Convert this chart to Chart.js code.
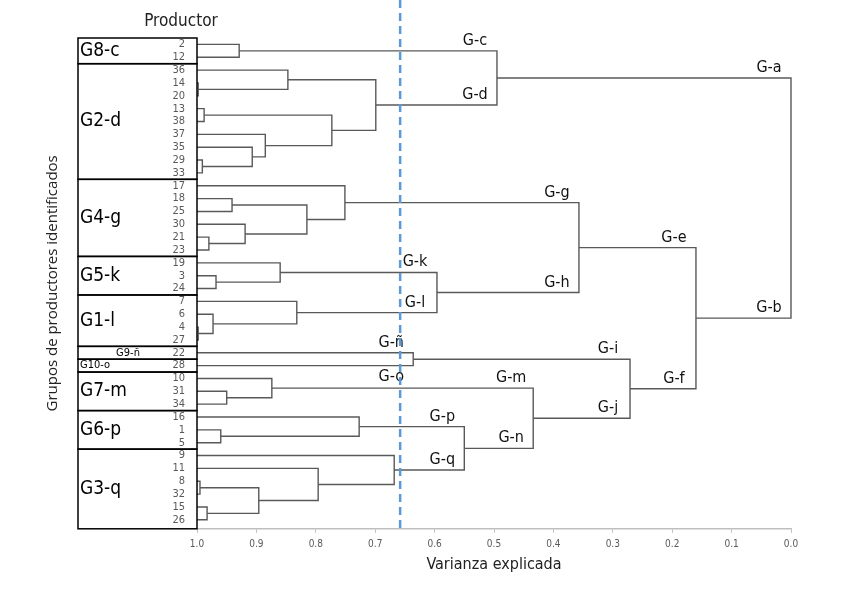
<!DOCTYPE html>
<html lang="es">
<head>
  <meta charset="UTF-8" />
  <title>Dendrograma de productores</title>
  <script src="https://cdn.jsdelivr.net/npm/chart.js"></script>
  <style>
    body { margin: 0; background: #fff; }
    #wrap { width: 864px; height: 596px; position: relative; }
  </style>
</head>
<body>
  <div id="wrap"><canvas id="dendro"></canvas></div>

  <script>
    // productores en el orden del dendrograma (de arriba a abajo)
    const productores = ['2','12','36','14','20','13','38','37','35','29','33','17','18','25','30','21','23',
      '19','3','24','7','6','4','27','22','28','10','31','34','16','1','5','9','11','8','32','15','26'];

    // uniones: [id, rama A (arriba), rama B (abajo), varianza explicada en la union]
    const uniones = [
      ['m1', '2', '12', 0.929],
      ['m2', '14', '20', 0.998],
      ['m3', '36', 'm2', 0.847],
      ['m4', '13', '38', 0.988],
      ['m5', '29', '33', 0.991],
      ['m6', '35', 'm5', 0.907],
      ['m7', '37', 'm6', 0.885],
      ['m8', 'm4', 'm7', 0.773],
      ['m9', 'm3', 'm8', 0.699],
      ['m10', 'm1', 'm9', 0.495],
      ['m11', '18', '25', 0.941],
      ['m12', '21', '23', 0.980],
      ['m13', '30', 'm12', 0.919],
      ['m14', 'm11', 'm13', 0.815],
      ['m15', '17', 'm14', 0.751],
      ['m16', '3', '24', 0.968],
      ['m17', '19', 'm16', 0.860],
      ['m18', '4', '27', 0.998],
      ['m19', '6', 'm18', 0.973],
      ['m20', '7', 'm19', 0.832],
      ['m21', 'm17', 'm20', 0.596],
      ['m22', 'm15', 'm21', 0.357],
      ['m23', '22', '28', 0.636],
      ['m24', '31', '34', 0.950],
      ['m25', '10', 'm24', 0.874],
      ['m26', '1', '5', 0.960],
      ['m27', '16', 'm26', 0.727],
      ['m28', '8', '32', 0.995],
      ['m29', '15', '26', 0.983],
      ['m30', 'm28', 'm29', 0.896],
      ['m31', '11', 'm30', 0.796],
      ['m32', '9', 'm31', 0.668],
      ['m33', 'm27', 'm32', 0.550],
      ['m34', 'm25', 'm33', 0.434],
      ['m35', 'm23', 'm34', 0.271],
      ['m36', 'm22', 'm35', 0.160],
      ['m37', 'm10', 'm36', 0.000]
    ];

    // nombres de las ramas en cada union: [union, rama de arriba, rama de abajo]
    const nombresRamas = [
      ['m10', 'G-c', 'G-d'],
      ['m37', 'G-a', 'G-b'],
      ['m22', 'G-g', 'G-h'],
      ['m36', 'G-e', 'G-f'],
      ['m21', 'G-k', 'G-l'],
      ['m23', 'G-ñ', 'G-o'],
      ['m35', 'G-i', 'G-j'],
      ['m34', 'G-m', 'G-n'],
      ['m33', 'G-p', 'G-q']
    ];
    const nombresDebajo = ['G-o'];

    // grupos identificados: [nombre, primer productor, ultimo productor]
    const grupos = [
      ['G8-c', '2', '12'], ['G2-d', '36', '33'], ['G4-g', '17', '23'], ['G5-k', '19', '24'],
      ['G1-l', '7', '27'], ['G9-ñ', '22', '22'], ['G10-o', '28', '28'], ['G7-m', '10', '34'],
      ['G6-p', '16', '5'], ['G3-q', '9', '26']
    ];
    const gruposChicos = ['G9-ñ', 'G10-o'];

    const ticksVarianza = [1.0, 0.9, 0.8, 0.7, 0.6, 0.5, 0.4, 0.3, 0.2, 0.1, 0.0];
    const corte = 0.658;

    const fuenteAngosta = "'Liberation Sans Narrow', 'DejaVu Sans Condensed', 'Open Sans', sans-serif";

    // posiciones de los nodos (altura = varianza, y = indice del productor)
    const nodos = {};
    productores.forEach((p, i) => { nodos[p] = { h: 1.0, y: i }; });
    uniones.forEach(([id, a, b, h]) => {
      nodos[id] = { h: h, y: (nodos[a].y + nodos[b].y) / 2, a: a, b: b };
    });

    const datasets = uniones.map(([id, a, b, h]) => ({
      data: [
        { x: nodos[a].h, y: nodos[a].y },
        { x: h, y: nodos[a].y },
        { x: h, y: nodos[b].y },
        { x: nodos[b].h, y: nodos[b].y }
      ],
      showLine: true,
      borderColor: '#595959',
      borderWidth: 1.4,
      pointRadius: 0,
      tension: 0,
      clip: false
    }));

    const extras = {
      id: 'extras',
      afterDraw(chart) {
        const { ctx, chartArea, scales: { x, y } } = chart;
        ctx.save();

        // cajas de grupos
        const izq = 78, der = x.getPixelForValue(1.0);
        ctx.strokeStyle = '#000';
        ctx.lineWidth = 1.5;
        grupos.forEach(([nombre, p1, p2], k) => {
          const top = y.getPixelForValue(productores.indexOf(p1) - 0.5);
          const bot = k === grupos.length - 1 ? chartArea.bottom : y.getPixelForValue(productores.indexOf(p2) + 0.5);
          ctx.strokeRect(izq, top, der - izq, bot - top);
          ctx.fillStyle = '#000';
          ctx.textBaseline = 'middle';
          if (gruposChicos.includes(nombre)) {
            ctx.font = '11px ' + fuenteAngosta;
            ctx.textAlign = nombre === 'G9-ñ' ? 'center' : 'left';
            ctx.fillText(nombre, nombre === 'G9-ñ' ? 128 : izq + 2, (top + bot) / 2);
          } else {
            ctx.font = '19px ' + fuenteAngosta;
            ctx.textAlign = 'left';
            ctx.fillText(nombre, izq + 2, (top + bot) / 2);
          }
        });

        // titulo de la columna
        ctx.font = '17px ' + fuenteAngosta;
        ctx.textAlign = 'center';
        ctx.fillStyle = '#222';
        ctx.fillText('Productor', 181, 22);

        // nombres de las ramas
        ctx.font = '16px ' + fuenteAngosta;
        ctx.fillStyle = '#111';
        ctx.textAlign = 'center';
        ctx.textBaseline = 'alphabetic';
        nombresRamas.forEach(([id, arriba, abajo]) => {
          const n = nodos[id];
          const px = x.getPixelForValue(n.h) - 22;
          [[arriba, nodos[n.a].y], [abajo, nodos[n.b].y]].forEach(([txt, yy]) => {
            const py = y.getPixelForValue(yy);
            ctx.fillText(txt, px, nombresDebajo.includes(txt) ? py + 15 : py - 6);
          });
        });

        // linea de corte
        const xc = x.getPixelForValue(corte);
        ctx.strokeStyle = '#5b9bd5';
        ctx.lineWidth = 2.5;
        ctx.setLineDash([8, 5]);
        ctx.beginPath();
        ctx.moveTo(xc, 0);
        ctx.lineTo(xc, chartArea.bottom + 3);
        ctx.stroke();
        ctx.restore();
      }
    };

    new Chart(document.getElementById('dendro'), {
      type: 'scatter',
      data: { datasets: datasets },
      options: {
        responsive: true,
        maintainAspectRatio: false,
        animation: false,
        layout: { padding: { left: 40, right: 73, top: 38, bottom: 18 } },
        plugins: { legend: { display: false }, tooltip: { enabled: false } },
        scales: {
          x: {
            type: 'linear',
            reverse: true,
            min: 0,
            max: 1,
            afterBuildTicks: s => { s.ticks = ticksVarianza.map(v => ({ value: v })); },
            ticks: {
              callback: v => v.toFixed(1),
              font: { size: 10, family: fuenteAngosta },
              color: '#595959',
              padding: 6,
              maxRotation: 0
            },
            grid: { drawOnChartArea: false, tickLength: 4, color: '#bfbfbf' },
            border: { color: '#bfbfbf', width: 1.5 },
            title: {
              display: true,
              text: 'Varianza explicada',
              font: { size: 16, family: fuenteAngosta },
              color: '#222',
              padding: { top: -2, bottom: 4 }
            }
          },
          y: {
            type: 'linear',
            reverse: true,
            min: -0.5,
            max: 37.7,
            afterBuildTicks: s => { s.ticks = productores.map((p, i) => ({ value: i })); },
            afterFit: s => { s.width = 157; },
            ticks: {
              autoSkip: false,
              callback: v => productores[v],
              font: { size: 11, family: fuenteAngosta },
              color: '#595959',
              padding: 4
            },
            grid: { display: false },
            border: { display: false },
            title: {
              display: true,
              text: 'Grupos de productores identificados',
              font: { size: 15, family: "'Open Sans', sans-serif" },
              color: '#222'
            }
          }
        }
      },
      plugins: [extras]
    });
  </script>
</body>
</html>
